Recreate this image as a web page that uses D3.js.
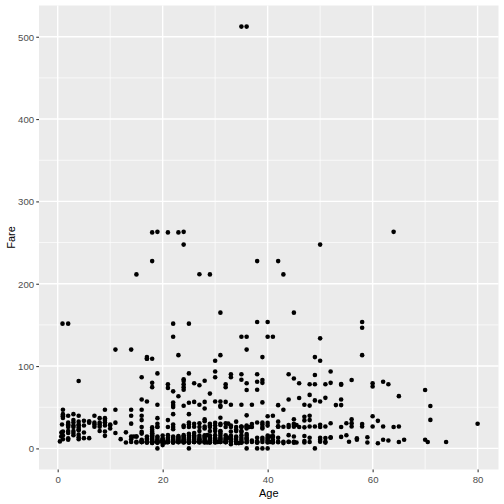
<!DOCTYPE html>
<html>
<head>
<meta charset="utf-8">
<script src="https://cdn.jsdelivr.net/npm/d3@7"></script>
<style>
  html, body { margin: 0; padding: 0; background: #ffffff; }
  svg { display: block; }
  text { font-family: "Liberation Sans", Arial, "DejaVu Sans", sans-serif; }
</style>
</head>
<body>
<script>
// ---- Data (Age, Fare) grouped by age column ----
const ageCols = [0.42, 0.67, 0.75, 0.83, 0.92, 1, 2, 3, 4, 5, 6, 7, 8, 9, 10, 11, 12, 13, 14, 14.5, 15, 16, 17, 18, 19, 20, 20.5, 21, 22, 23, 24, 25, 26, 27, 28, 28.5, 29, 30, 30.5, 31, 32, 32.5, 33, 34, 34.5, 35, 36, 36.5, 37, 38, 39, 40, 40.5, 41, 42, 43, 44, 45, 45.5, 46, 47, 48, 49, 50, 51, 52, 53, 54, 55, 55.5, 56, 57, 58, 59, 60, 61, 62, 63, 64, 65, 66, 70, 70.5, 71, 74, 80];
const fareCols = [
  [8.52],
  [14.5],
  [19.26, 19.26],
  [29, 18.75],
  [151.55],
  [39.69, 11.13, 15.74, 46.9, 20.58, 39, 41.58, 37],
  [151.55, 39.69, 31.28, 29.13, 27.9, 26, 21.08, 18.75, 12.29, 10.46],
  [41.58, 34.38, 31.39, 27.9, 26, 21.08, 18.75, 15.9],
  [81.86, 39.69, 32.5, 29.13, 27.9, 25.47, 23, 22.03, 16.7, 13.42, 11.13],
  [33.5, 27.75, 19.26, 12.48],
  [33, 31.28, 12.48],
  [39.69, 31.28, 26.25, 29.13],
  [36.75, 31.28, 26.25, 29.13, 21.08],
  [46.9, 36.75, 34.38, 31.39, 31.28, 27.9, 20.53, 15.25],
  [29.13, 27.9, 24.15],
  [120, 46.9, 31.28, 18.79],
  [11.24],
  [19.5, 7.23],
  [120, 46.9, 39.69, 30.07, 14.45, 11.24, 7.85],
  [14.45],
  [211.34, 14.45, 8.03, 7.23, 14.45],
  [86.5, 59.4, 46.9, 39.69, 34.38, 26, 20.25, 18, 10.5, 9.22, 8.05, 7.75, 7.73, 7.65],
  [110.88, 108.9, 108.9, 57, 14.46, 12, 10.5, 8.66, 7.93, 7.9, 7.23, 7.13],
  [262.38, 227.53, 108.9, 79.65, 74.4, 25.5, 22.6, 20.21, 18, 17.8, 16.1, 14.45, 13, 11.5, 10.5, 9.35, 8.3, 8.05, 7.8, 7.78, 7.75, 7.5, 6.75, 6.5],
  [263, 91.08, 53.1, 36.75, 30, 26.28, 26, 14.5, 12.5, 10.5, 9.2, 8.05, 7.88, 7.78, 7.65, 6.75, 0],
  [15.74, 12.4, 11, 9.85, 9.5, 9.23, 8.05, 7.93, 7.85, 7.23, 7.05, 4.01],
  [7.25],
  [262.38, 77.96, 73.5, 34.38, 26, 16.1, 13, 11.5, 10.5, 9.5, 8.43, 8.05, 7.93, 7.8, 7.73, 7.65],
  [151.55, 135.63, 69.3, 55.8, 52.6, 50.2, 41.58, 29, 26, 23.25, 14.5, 13, 11.5, 10.52, 9.35, 9, 8.05, 7.8, 7.75, 7.25, 7.13],
  [262.38, 113.28, 63.36, 15.05, 13.79, 13, 11.5, 10.5, 9.23, 8.05, 7.9, 7.85, 7.55],
  [263, 247.52, 84, 81.86, 77.96, 74.4, 71.28, 51.86, 27.72, 26, 16.1, 14.5, 13, 11.5, 10.5, 9.5, 8.85, 8.05, 7.79, 7.5, 7.14],
  [151.55, 91.08, 55.44, 41.58, 31.5, 29.13, 26, 17.8, 15.5, 13, 11.5, 10.5, 9.5, 8.05, 7.9, 7.74, 7.65, 7.23, 7.05, 0],
  [79.2, 56.5, 30, 26.25, 18.79, 16.1, 14.45, 13, 11.5, 10.5, 8.66, 8.05, 7.9, 7.88, 7.78, 7.78],
  [211.5, 76.73, 53.1, 30.5, 26, 21, 15.5, 13, 11.13, 10.5, 8.66, 7.93, 7.8, 7.23],
  [82.17, 56.5, 48.5, 35.5, 33, 26.55, 24.15, 15.85, 14.4, 13, 11.5, 9.5, 8.05, 7.9, 7.78, 7.25],
  [16.1, 7.23],
  [211.34, 66.6, 30, 27.72, 26, 21, 15.5, 13, 11.5, 10.5, 9.48, 8.05, 7.9, 7.78, 7.05],
  [106.43, 93.5, 86.5, 56.93, 31, 27.75, 24.15, 21, 16.1, 13, 12.35, 10.5, 9.5, 8.05, 7.9, 7.75, 7.23],
  [8.05, 7.75],
  [164.87, 113.28, 57, 52, 50.5, 37.2, 30, 28.5, 21, 20.53, 18, 15.5, 13, 11.5, 10.5, 8.05, 7.85, 7.78],
  [77.96, 74.4, 56.5, 30.5, 26, 15.85, 13, 11.5, 10.5, 8.36, 8.05, 7.93, 7.85, 7.75, 7.58],
  [30.07, 13],
  [90, 86.5, 53.1, 27.72, 26, 20.53, 15.5, 12.28, 11, 9.5, 8.65, 7.9, 7.78, 5],
  [32.5, 26, 23, 21, 14.5, 13, 10.5, 8.05, 6.5, 6.5],
  [6.44],
  [512.33, 135.63, 90, 83.48, 53.1, 26.55, 26.29, 26, 21, 20.25, 16.1, 13, 10.5, 8.05, 7.13, 7.05],
  [512.33, 135.63, 120, 79.2, 71, 40.13, 27.75, 26.39, 26, 24.15, 17.4, 15.55, 13, 12.18, 10.5, 7.9, 7.5, 0],
  [26],
  [53.1, 29.7, 26, 9.59, 7.93],
  [227.53, 153.46, 90, 81, 71.28, 31.39, 13, 8.66, 7.9, 7.23, 7.05, 0],
  [110.88, 83.16, 79.65, 55.9, 31.28, 29.13, 26, 24.15, 13, 10.5, 7.93, 0],
  [153.46, 135.63, 39, 31, 27.72, 15.5, 13, 11.5, 9.5, 7.9, 7.23, 0],
  [14.5, 7.75],
  [135.63, 39.69, 20.21, 15.05, 14.1, 10.5, 7.85, 7.13],
  [227.53, 52.55, 32.5, 27, 26.55, 26.29, 13, 8.4, 7.55],
  [211.34, 46.9, 26.25, 8.05, 6.45],
  [90, 59.4, 28.3, 26, 16.1, 8.05, 7.93],
  [164.87, 85, 35.5, 30, 28.5, 26.25, 14.45, 8.05, 7.75, 6.98],
  [28.5, 7.23],
  [79.2, 61.18, 26],
  [53.1, 38.5, 34, 25.59, 15, 9, 7.25],
  [77.96, 65, 52, 39.6, 34.38, 26.55, 13, 7.85],
  [110.88, 89.1, 77.96, 58.3, 26.55, 0],
  [247.52, 133.65, 106.43, 56.93, 28.71, 26, 13, 10.5, 8.05],
  [77.96, 61.38, 26.55, 12.53, 8.05, 7.05],
  [93.5, 79.65, 30.5, 13.5, 13],
  [52.6],
  [78.27, 77.29, 59.4, 52.6, 26, 14],
  [30.5, 16],
  [8.05],
  [83.16, 35.5, 30.7, 26.55],
  [12.35, 10.5],
  [153.46, 146.52, 113.28, 29.7, 26.55],
  [13.5, 7.25],
  [79.2, 75.25, 39, 26.55],
  [33.5, 6.24],
  [81, 26.55, 10.5],
  [77.96, 9.59],
  [263, 26],
  [63.5, 26.55, 7.75],
  [10.5],
  [71, 10.5],
  [7.75],
  [51.6, 34.65],
  [7.78],
  [30]
];
const xTicks = [0, 20, 40, 60, 80];
const yTicks = [0, 100, 200, 300, 400, 500];
const xMinor = [10, 30, 50, 70];
const yMinor = [50, 150, 250, 350, 450];
const xTitle = "Age";
const yTitle = "Fare";

// ---- Build points ----
const points = [];
ageCols.forEach((a, i) => fareCols[i].forEach(f => points.push({ age: a, fare: f })));

// ---- Layout ----
const W = 504, H = 504;
const panel = { left: 39, right: 498.5, top: 5.5, bottom: 469.5 };

const ageExt = d3.extent(points, d => d.age);
const fareExt = d3.extent(points, d => d.fare);
const xPad = (ageExt[1] - ageExt[0]) * 0.05;
const yPad = (fareExt[1] - fareExt[0]) * 0.05;

const x = d3.scaleLinear().domain([ageExt[0] - xPad, ageExt[1] + xPad]).range([panel.left, panel.right]);
const y = d3.scaleLinear().domain([fareExt[0] - yPad, fareExt[1] + yPad]).range([panel.bottom, panel.top]);

const svg = d3.select("body").append("svg").attr("width", W).attr("height", H);
svg.append("rect").attr("width", W).attr("height", H).attr("fill", "#ffffff");

// panel background
svg.append("rect")
  .attr("x", panel.left).attr("y", panel.top)
  .attr("width", panel.right - panel.left).attr("height", panel.bottom - panel.top)
  .attr("fill", "#EBEBEB");

const grid = svg.append("g");
// minor grid
grid.selectAll(".vminor").data(xMinor).join("line")
  .attr("x1", d => x(d)).attr("x2", d => x(d)).attr("y1", panel.top).attr("y2", panel.bottom)
  .attr("stroke", "#ffffff").attr("stroke-width", 0.71);
grid.selectAll(".hminor").data(yMinor).join("line")
  .attr("y1", d => y(d)).attr("y2", d => y(d)).attr("x1", panel.left).attr("x2", panel.right)
  .attr("stroke", "#ffffff").attr("stroke-width", 0.71);
// major grid
grid.selectAll(".vmajor").data(xTicks).join("line")
  .attr("x1", d => x(d)).attr("x2", d => x(d)).attr("y1", panel.top).attr("y2", panel.bottom)
  .attr("stroke", "#ffffff").attr("stroke-width", 1.42);
grid.selectAll(".hmajor").data(yTicks).join("line")
  .attr("y1", d => y(d)).attr("y2", d => y(d)).attr("x1", panel.left).attr("x2", panel.right)
  .attr("stroke", "#ffffff").attr("stroke-width", 1.42);

// points
svg.append("g").selectAll("circle").data(points).join("circle")
  .attr("cx", d => x(d.age)).attr("cy", d => y(d.fare))
  .attr("r", 2.3).attr("fill", "#000000");

// axes
const xAxis = d3.axisBottom(x).tickValues(xTicks).tickSize(2.75).tickPadding(3.5);
const yAxis = d3.axisLeft(y).tickValues(yTicks).tickSize(2.75).tickPadding(2.2);

const gx = svg.append("g").attr("transform", `translate(0,${panel.bottom})`).call(xAxis);
const gy = svg.append("g").attr("transform", `translate(${panel.left},0)`).call(yAxis);
[gx, gy].forEach(g => {
  g.select(".domain").remove();
  g.selectAll(".tick line").attr("stroke", "#333333").attr("stroke-width", 1.07);
  g.selectAll(".tick text").attr("fill", "#4D4D4D").style("font-size", "9.6px")
    .style("font-family", '"Liberation Sans", Arial, sans-serif');
});
gx.selectAll(".tick text").attr("dy", null).attr("y", 2.75 + 3.5).attr("dominant-baseline", "hanging");
gy.selectAll(".tick text").attr("dy", "0.35em");

// axis titles
svg.append("text")
  .attr("x", (panel.left + panel.right) / 2).attr("y", 497)
  .attr("text-anchor", "middle").attr("fill", "#000000").style("font-size", "11px")
  .text(xTitle);
svg.append("text")
  .attr("transform", `translate(15,${(panel.top + panel.bottom) / 2}) rotate(-90)`)
  .attr("text-anchor", "middle").attr("fill", "#000000").style("font-size", "11px")
  .text(yTitle);
</script>
</body>
</html>
